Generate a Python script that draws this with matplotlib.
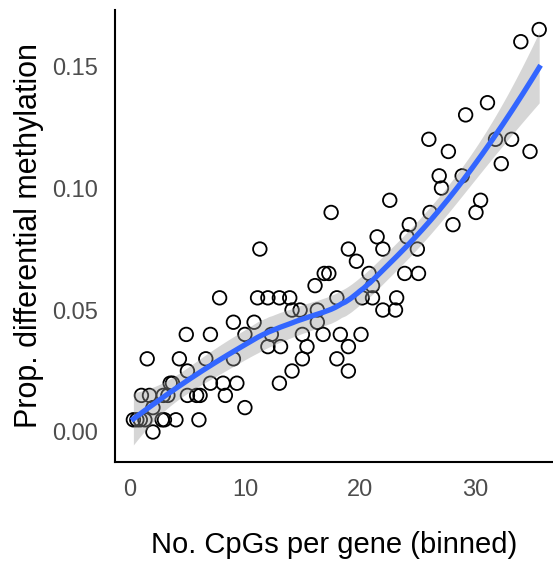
import numpy as np
import matplotlib
matplotlib.use("Agg")
import matplotlib.pyplot as plt

plt.rcParams['font.family'] = ['Liberation Sans', 'DejaVu Sans']

# points, grouped by proportion
cpg = [0.3, 0.6, 0.9, 1.3, 2.8, 3.0, 4.0, 6.0,
       2.0,
       2.0, 10.0,
       1.0, 1.7, 2.9, 3.3, 5.0, 5.8, 6.1, 8.3,
       3.5, 3.7, 7.0, 8.1, 9.3, 13.0,
       5.0, 14.1, 19.0,
       1.5, 4.3, 6.6, 9.0, 15.0, 18.0,
       12.0, 13.1, 15.4, 19.0,
       4.9, 7.0, 10.0, 12.3, 15.0, 16.8, 18.3, 20.1,
       9.0, 10.8, 16.3,
       14.1, 14.8, 16.3, 22.0, 23.1,
       7.8, 11.1, 12.0, 13.0, 13.9, 18.0, 20.2, 21.1, 23.2,
       16.1, 21.1,
       16.9, 17.3, 20.8, 23.9, 25.1,
       19.7,
       11.3, 19.0, 22.0, 25.0,
       21.5, 24.1,
       24.3, 28.1,
       17.5, 26.1, 30.1,
       22.6, 30.5,
       27.1,
       26.9, 28.9,
       32.3,
       27.7, 34.8,
       26.0, 31.8, 33.2,
       29.2,
       31.1,
       34.0,
       35.6]
prop = [0.005] * 8 + [0.0] + [0.01] * 2 + [0.015] * 8 + [0.02] * 6 + [0.025] * 3 \
    + [0.03] * 6 + [0.035] * 4 + [0.04] * 8 + [0.045] * 3 + [0.05] * 5 \
    + [0.055] * 9 + [0.06] * 2 + [0.065] * 5 + [0.07] + [0.075] * 4 \
    + [0.08] * 2 + [0.085] * 2 + [0.09] * 3 + [0.095] * 2 + [0.10] \
    + [0.105] * 2 + [0.11] + [0.115] * 2 + [0.12] * 3 + [0.13] + [0.135] \
    + [0.16] + [0.165]

x = np.array(cpg)
y = np.array(prop)


def loess(x, y, xs, span=0.75):
    n = len(x)
    q = int(np.floor(n * span))

    def weights_row(x0):
        d = np.abs(x - x0)
        h = np.sort(d)[q - 1]
        w = np.clip(1 - (d / h) ** 3, 0, None) ** 3
        X = np.column_stack([np.ones(n), x - x0, (x - x0) ** 2])
        XtW = X.T * w
        return np.linalg.solve(XtW @ X, XtW)[0]

    S = np.array([weights_row(v) for v in x])
    res = y - S @ y
    R = np.eye(n) - S
    d1 = np.trace(R.T @ R)
    sigma = np.sqrt(np.sum(res ** 2) / d1)
    L = np.array([weights_row(v) for v in xs])
    fit = L @ y
    se = sigma * np.sqrt(np.sum(L ** 2, axis=1))
    return fit, se


xs = np.linspace(x.min(), x.max(), 200)
fit, se = loess(x, y, xs)

fig = plt.figure(figsize=(5.53, 5.63), dpi=100)
ax = fig.add_axes([115 / 553, 1 - 462 / 563, 1 - 115 / 553, (462 - 10) / 563])

ax.scatter(x, y, s=95, facecolors='none', edgecolors='black', linewidths=1.3, zorder=2)
ax.fill_between(xs, fit - 1.99 * se, fit + 1.99 * se, color='#999999', alpha=0.4,
                linewidth=0, zorder=3)
ax.plot(xs, fit, color='#3366FF', linewidth=3.8, zorder=4)

ax.set_xlim(-1.3, 36.8)
ax.set_ylim(-0.0123, 0.173)
ax.set_xticks([0, 10, 20, 30])
ax.set_yticks([0.0, 0.05, 0.10, 0.15])
ax.set_yticklabels(['0.00', '0.05', '0.10', '0.15'])
ax.tick_params(length=0, labelsize=17, labelcolor='#4d4d4d', pad=12)
for side in ['top', 'right']:
    ax.spines[side].set_visible(False)
for side in ['left', 'bottom']:
    ax.spines[side].set_linewidth(1.5)

ax.set_xlabel('No. CpGs per gene (binned)', fontsize=21, labelpad=22)
ax.set_ylabel('Prop. differential methylation', fontsize=22, labelpad=6)

# panel letter, mostly cut off at the top as in the original figure
fig.text(0.0, 1.018, 'B', fontsize=22, fontweight='bold', va='center')

fig.savefig('out.png', dpi=100)
